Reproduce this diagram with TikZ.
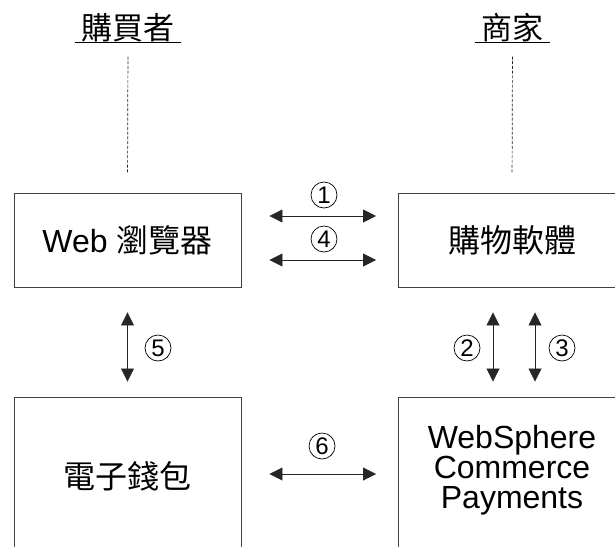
\documentclass[tikz,border=0pt]{standalone}
\usepackage{fontspec}
\setmainfont{Liberation Sans}
\newfontfamily\cjk{Noto Sans CJK TC}
\usetikzlibrary{positioning, arrows.meta}

\tikzset{
  box/.style={draw=black!75, line width=0.9pt, minimum width=227pt, inner sep=0pt,
    align=center, font=\fontsize{32}{30}\selectfont},
  both/.style={{Triangle[length=13pt,width=13pt]}-{Triangle[length=13pt,width=13pt]},
    line width=0.8pt, draw=black!85},
  num/.style={circle, draw, line width=0.7pt, inner sep=0pt, minimum size=26pt,
    font=\fontsize{24}{24}\selectfont},
  head/.style={font=\cjk\fontsize{31}{31}\selectfont, inner xsep=6pt, inner ysep=0pt},
  life/.style={draw=black!85, line width=0.7pt, dash pattern=on 3pt off 1.7pt},
}

\begin{document}
\begin{tikzpicture}[x=1pt, y=-1pt]
        \useasboundingbox (0,0) rectangle (615,546);

        % the two sides
        \node[head] (buyer)  at (128,28)   {購買者};
        \node[head] (seller) at (512.5,28) {商家};
        \draw[line width=0.8pt] (buyer.south west) -- (buyer.south east);
        \draw[line width=0.8pt] (seller.south west) -- (seller.south east);

        % the boxes
        \node[box, minimum height=94pt]  (browser) at (127.5,240) {Web {\cjk 瀏覽器}};
        \node[box, minimum height=94pt]  (shop)    at (512,240)   {{\cjk 購物軟體}};
        \node[box, minimum height=158pt] (wallet)  at (127.5,476) {{\cjk 電子錢包}};
        \node[box, minimum height=158pt] (pay)     at (512,476)   {};
        \node[font=\fontsize{32}{30}\selectfont, align=center] (paytext) at (512,470)
            {WebSphere\\Commerce\\Payments};

        % dotted lines down to the boxes
        \draw[life, shorten <=14pt, shorten >=20pt] (buyer.south) -- (browser.north);
        \draw[life, shorten <=14pt, shorten >=20pt] (seller.south) -- (shop.north);

        % browser <-> shop
        \draw[both, shorten <=28pt, shorten >=22pt] ([yshift=24pt]browser.east) -- ([yshift=24pt]shop.west);
        \draw[both, shorten <=28pt, shorten >=22pt] ([yshift=-20pt]browser.east) -- ([yshift=-20pt]shop.west);
        \node[num] (n1) at (324,195) {1};
        \node[num] (n4) at (324,239) {4};

        % shop <-> payments
        \draw[both, shorten <=25pt, shorten >=15pt] ([xshift=-19pt]shop.south) -- ([xshift=-19pt]pay.north);
        \draw[both, shorten <=25pt, shorten >=15pt] ([xshift=23pt]shop.south) -- ([xshift=23pt]pay.north);
        \node[num] (n2) at (467,348) {2};
        \node[num] (n3) at (562,348) {3};

        % browser <-> wallet
        \draw[both, shorten <=25pt, shorten >=15pt] (browser.south) -- (wallet.north);
        \node[num] (n5) at (158,348) {5};

        % wallet <-> payments
        \draw[both, shorten <=28pt, shorten >=22pt] ([yshift=2pt]wallet.east) -- ([yshift=2pt]pay.west);
        \node[num] (n6) at (322,446) {6};
\end{tikzpicture}
\end{document}
